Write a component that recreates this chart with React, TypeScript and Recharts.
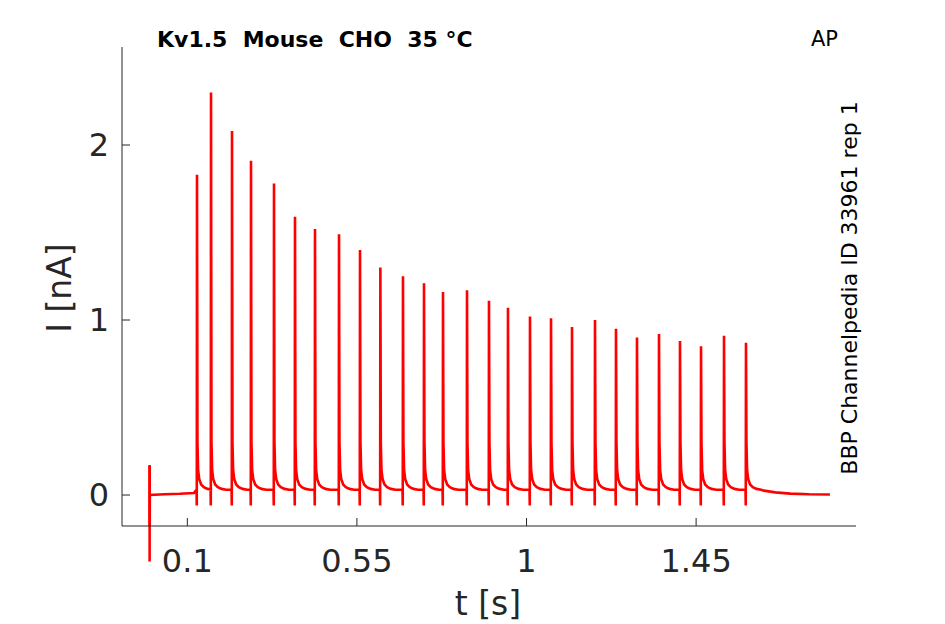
import { LineChart, Line, XAxis, YAxis, ReferenceLine } from 'recharts';

// spike onsets (s) and peak currents (nA)
const SPIKE_TIMES = [
  0.1257, 0.1629, 0.2186, 0.269, 0.33, 0.3857, 0.4388, 0.5025, 0.5582, 0.6122,
  0.6722, 0.728, 0.7784, 0.8421, 0.9004, 0.9508, 1.0092, 1.065, 1.1207, 1.1817,
  1.2374, 1.2931, 1.3515, 1.4072, 1.463, 1.524, 1.5823,
];
const SPIKE_PEAKS = [
  1.83, 2.3, 2.08, 1.91, 1.78, 1.59, 1.52, 1.49, 1.4, 1.3,
  1.25, 1.21, 1.16, 1.17, 1.11, 1.07, 1.02, 1.01, 0.96, 1.0,
  0.95, 0.9, 0.92, 0.88, 0.85, 0.91, 0.87,
];

// shape of one spike: offset from onset (s) and level (nA); null = the spike's peak
const SHAPE_OFFSETS = [-0.0012, -0.0006, 0, 0.0012, 0.003, 0.006, 0.011, 0.018, 0.028, 0.04];
const SHAPE_LEVELS: (number | null)[] = [0.03, -0.06, null, 0.3, 0.14, 0.09, 0.06, 0.045, 0.035, 0.03];

// baseline before the first spike and the tail after the last one
const PRE_T = [0.0005, 0.04, 0.08, 0.118];
const PRE_I = [0.0, 0.004, 0.007, 0.012];
const POST_T = [1.63, 1.66, 1.7, 1.75, 1.805];
const POST_I = [0.025, 0.015, 0.008, 0.004, 0.003];

// stimulus artifact at t = 0
const ARTIFACT_T = 0;
const ARTIFACT_TOP = 0.17;
const ARTIFACT_BOTTOM = -0.38;

const X_TICKS = [0.1, 0.55, 1, 1.45];
const Y_TICKS = [0, 1, 2];
const X_DOMAIN: [number, number] = [-0.0733, 1.8742];
const Y_DOMAIN: [number, number] = [-0.177, 2.56];

const AXIS = '#262626';
const FONT = 'DejaVu Sans';

function buildTrace() {
  const pts: { t: number; i: number }[] = [
    { t: ARTIFACT_T, i: ARTIFACT_TOP },
    { t: ARTIFACT_T, i: ARTIFACT_BOTTOM },
  ];
  PRE_T.forEach((t, k) => pts.push({ t, i: PRE_I[k] }));
  SPIKE_TIMES.forEach((t0, s) => {
    SHAPE_OFFSETS.forEach((dt, k) => {
      const lv = SHAPE_LEVELS[k];
      pts.push({ t: t0 + dt, i: lv === null ? SPIKE_PEAKS[s] : lv });
    });
  });
  POST_T.forEach((t, k) => pts.push({ t, i: POST_I[k] }));
  return pts;
}

const trace = buildTrace();

export default function App() {
  return (
    <div style={{ position: 'absolute', left: 0, top: 0, width: 945, height: 624, background: '#fff' }}>
      <LineChart
        width={945}
        height={624}
        data={trace}
        margin={{ top: 47, left: 121, right: 89, bottom: 97 }}
      >
        <XAxis
          type="number"
          dataKey="t"
          domain={X_DOMAIN}
          allowDataOverflow
          ticks={X_TICKS}
          interval={0}
          height={1}
          stroke={AXIS}
          tickSize={-8}
          tickMargin={31}
          tick={{ fontSize: 32, fill: AXIS, fontFamily: FONT }}
        />
        <YAxis
          type="number"
          dataKey="i"
          domain={Y_DOMAIN}
          allowDataOverflow
          ticks={Y_TICKS}
          interval={0}
          width={1}
          stroke={AXIS}
          tickSize={-8}
          tickMargin={21}
          tick={{ fontSize: 32, fill: AXIS, fontFamily: FONT }}
        />
        <ReferenceLine
          segment={[
            { x: ARTIFACT_T, y: ARTIFACT_TOP },
            { x: ARTIFACT_T, y: ARTIFACT_BOTTOM },
          ]}
          ifOverflow="visible"
          stroke="#ff0000"
          strokeWidth={2.6}
        />
        <Line
          type="linear"
          dataKey="i"
          stroke="#ff0000"
          strokeWidth={2.6}
          dot={false}
          isAnimationActive={false}
        />
      </LineChart>
      <svg
        width={945}
        height={624}
        style={{ position: 'absolute', left: 0, top: 0, pointerEvents: 'none' }}
        fontFamily={FONT}
      >
        <text x={157} y={47} fontSize={22} fontWeight="bold" fill="#000" xmlSpace="preserve" style={{ whiteSpace: 'pre' }}>
          {'Kv1.5  Mouse  CHO  35 °C'}
        </text>
        <text x={811} y={46} fontSize={21} fill="#000">AP</text>
        <text
          x={856.5}
          y={288}
          fontSize={22}
          fill="#000"
          textAnchor="middle"
          transform="rotate(-90 856.5 288)"
        >
          BBP Channelpedia ID 33961 rep 1
        </text>
        <text x={71} y={288} fontSize={33} fill={AXIS} textAnchor="middle" transform="rotate(-90 71 288)">
          I [nA]
        </text>
        <text x={488} y={615} fontSize={33} fill={AXIS} textAnchor="middle">
          t [s]
        </text>
      </svg>
    </div>
  );
}
